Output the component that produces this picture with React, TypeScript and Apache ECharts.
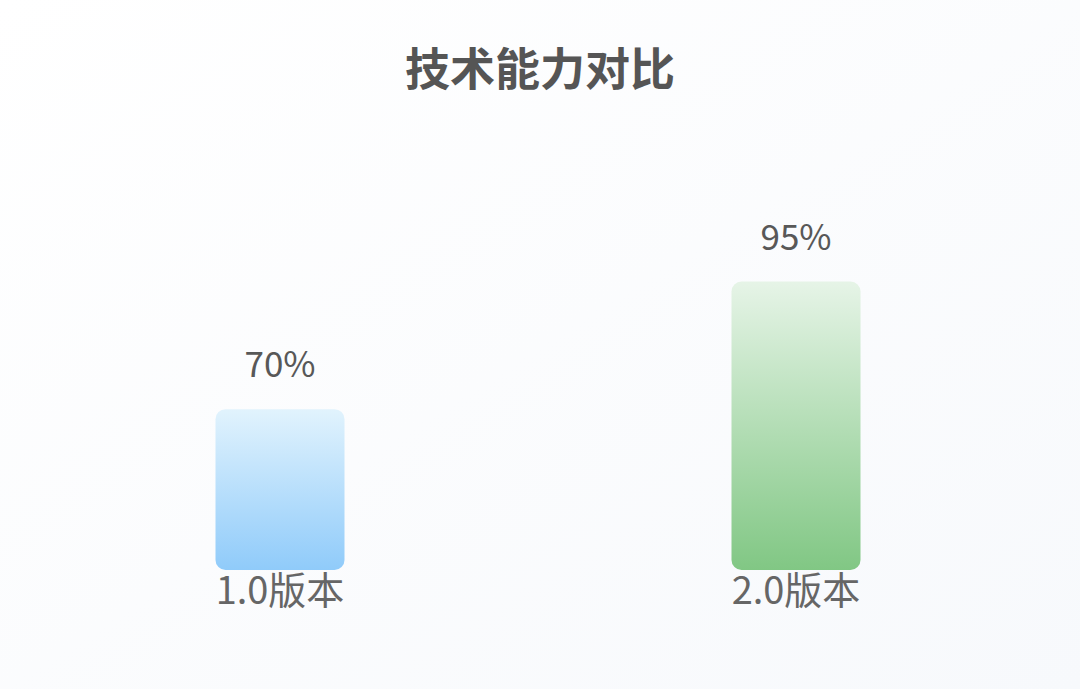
import React, { useEffect, useRef } from 'react';
import * as echarts from 'echarts';

const categories = ['1.0版本', '2.0版本'];
const values = [70, 95];
const barColors = [
  ['#e1f3fd', '#90cbfa'],
  ['#e6f4e7', '#81c784'],
];

const FONT = '"Noto Sans CJK SC", "Noto Sans", sans-serif';

export default function App() {
  const chartRef = useRef<HTMLDivElement>(null);

  useEffect(() => {
    const chart = echarts.init(chartRef.current, null, { renderer: 'svg' });

    const option = {
      animation: false,
      backgroundColor: new echarts.graphic.LinearGradient(0, 0, 1, 1, [
        { offset: 0, color: '#ffffff' },
        { offset: 1, color: '#f7f9fc' },
      ]),
      textStyle: { fontFamily: FONT },
      title: {
        text: '技术能力对比',
        left: 'center',
        top: 39,
        textStyle: { fontSize: 45, fontWeight: 'bold', color: '#555555', fontFamily: FONT },
      },
      grid: { left: 22, right: 26, top: 256, bottom: 119, containLabel: false },
      xAxis: {
        type: 'category',
        data: categories,
        axisLine: { show: false },
        axisTick: { show: false },
        axisLabel: { fontSize: 38, color: '#666666', margin: -2, fontFamily: FONT },
      },
      yAxis: {
        type: 'value',
        min: 38.5,
        max: 100,
        show: false,
      },
      series: [
        {
          type: 'bar',
          barWidth: 129,
          data: values.map((v, i) => ({
            value: v,
            itemStyle: {
              borderRadius: 10,
              color: new echarts.graphic.LinearGradient(0, 0, 0, 1, [
                { offset: 0, color: barColors[i][0] },
                { offset: 1, color: barColors[i][1] },
              ]),
            },
          })),
          label: {
            show: true,
            position: 'top',
            distance: 30,
            formatter: '{c}%',
            fontSize: 35,
            color: '#585858',
            fontFamily: FONT,
          },
        },
      ],
    };

    chart.setOption(option);
    return () => chart.dispose();
  }, []);

  return (
    <div style={{ position: 'fixed', left: 0, top: 0, width: 1080, height: 689 }}>
      <div ref={chartRef} style={{ width: 1080, height: 689 }} />
    </div>
  );
}
